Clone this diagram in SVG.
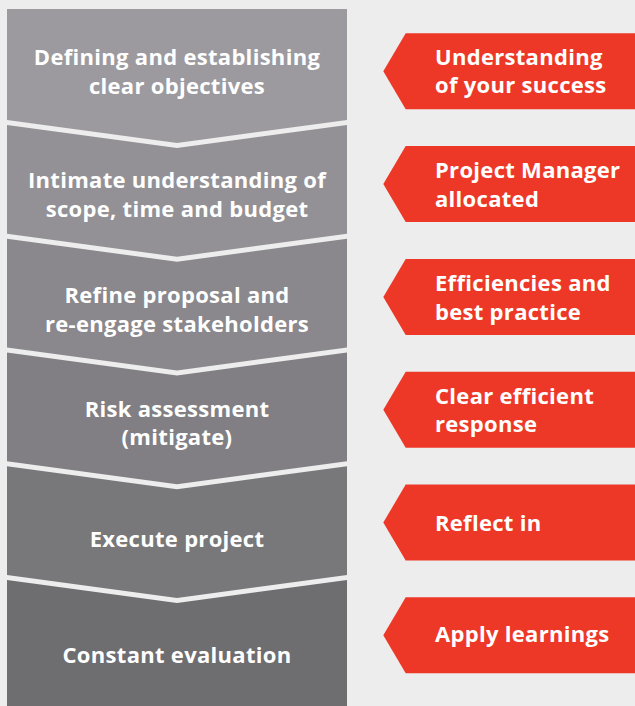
<svg xmlns="http://www.w3.org/2000/svg" width="635" height="706" viewBox="0 0 635 706">
<style>
.bg{fill:#ededed}
.gt{font-family:"Open Sans","Liberation Sans",sans-serif;font-weight:700;font-size:22px;letter-spacing:0.3px;fill:#ffffff;text-anchor:middle}
.rt{font-family:"Open Sans","Liberation Sans",sans-serif;font-weight:700;font-size:22px;letter-spacing:0.3px;fill:#ffffff}
.red{fill:#ee3827}
</style>
<rect class="bg" x="0" y="0" width="635" height="706"/>
<g id="step1">
<polygon fill="#9c9a9e" points="7,9 347,9 347,120 177,143 7,120"/>
<text class="gt" x="177" y="65">Defining and establishing</text>
<text class="gt" x="177" y="94">clear objectives</text>
</g>
<g id="step2">
<polygon fill="#939195" points="7,125 177,148 347,125 347,233.75 177,256.75 7,233.75"/>
<text class="gt" x="177" y="188.3">Intimate understanding of</text>
<text class="gt" x="177" y="216.7">scope, time and budget</text>
</g>
<g id="step3">
<polygon fill="#8a888c" points="7,238.75 177,261.75 347,238.75 347,347.5 177,370.5 7,347.5"/>
<text class="gt" x="177" y="303.3">Refine proposal and</text>
<text class="gt" x="177" y="331.7">re-engage stakeholders</text>
</g>
<g id="step4">
<polygon fill="#817f83" points="7,352.5 177,375.5 347,352.5 347,461.25 177,484.25 7,461.25"/>
<text class="gt" x="177" y="416.7">Risk assessment</text>
<text class="gt" x="177" y="445">(mitigate)</text>
</g>
<g id="step5">
<polygon fill="#78777a" points="7,466.25 177,489.25 347,466.25 347,575 177,598 7,575"/>
<text class="gt" x="177" y="546.7">Execute project</text>
</g>
<g id="step6">
<polygon fill="#6e6d70" points="7,580 177,603 347,580 347,706 7,706"/>
<text class="gt" x="177" y="663.3">Constant evaluation</text>
</g>
<g id="out1">
<polygon class="red" points="405.7,33.3 635,33.3 635,109.3 405.7,109.3 383.3,71.3"/>
<text class="rt" x="435" y="64.5">Understanding</text>
<text class="rt" x="435" y="93">of your success</text>
</g>
<g id="out2">
<polygon class="red" points="405.7,146.1 635,146.1 635,222.1 405.7,222.1 383.3,184.1"/>
<text class="rt" x="435" y="178.3">Project Manager</text>
<text class="rt" x="435" y="206.7">allocated</text>
</g>
<g id="out3">
<polygon class="red" points="405.7,258.9 635,258.9 635,334.9 405.7,334.9 383.3,296.9"/>
<text class="rt" x="435" y="291.1">Efficiencies and</text>
<text class="rt" x="435" y="319.5">best practice</text>
</g>
<g id="out4">
<polygon class="red" points="405.7,371.7 635,371.7 635,447.7 405.7,447.7 383.3,409.7"/>
<text class="rt" x="435" y="403.9">Clear efficient</text>
<text class="rt" x="435" y="432.3">response</text>
</g>
<g id="out5">
<polygon class="red" points="405.7,484.5 635,484.5 635,560.5 405.7,560.5 383.3,522.5"/>
<text class="rt" x="435" y="530.7">Reflect in</text>
</g>
<g id="out6">
<polygon class="red" points="405.7,597.3 635,597.3 635,673.3 405.7,673.3 383.3,635.3"/>
<text class="rt" x="435" y="642">Apply learnings</text>
</g>
<g id="connectors"></g>
</svg>
